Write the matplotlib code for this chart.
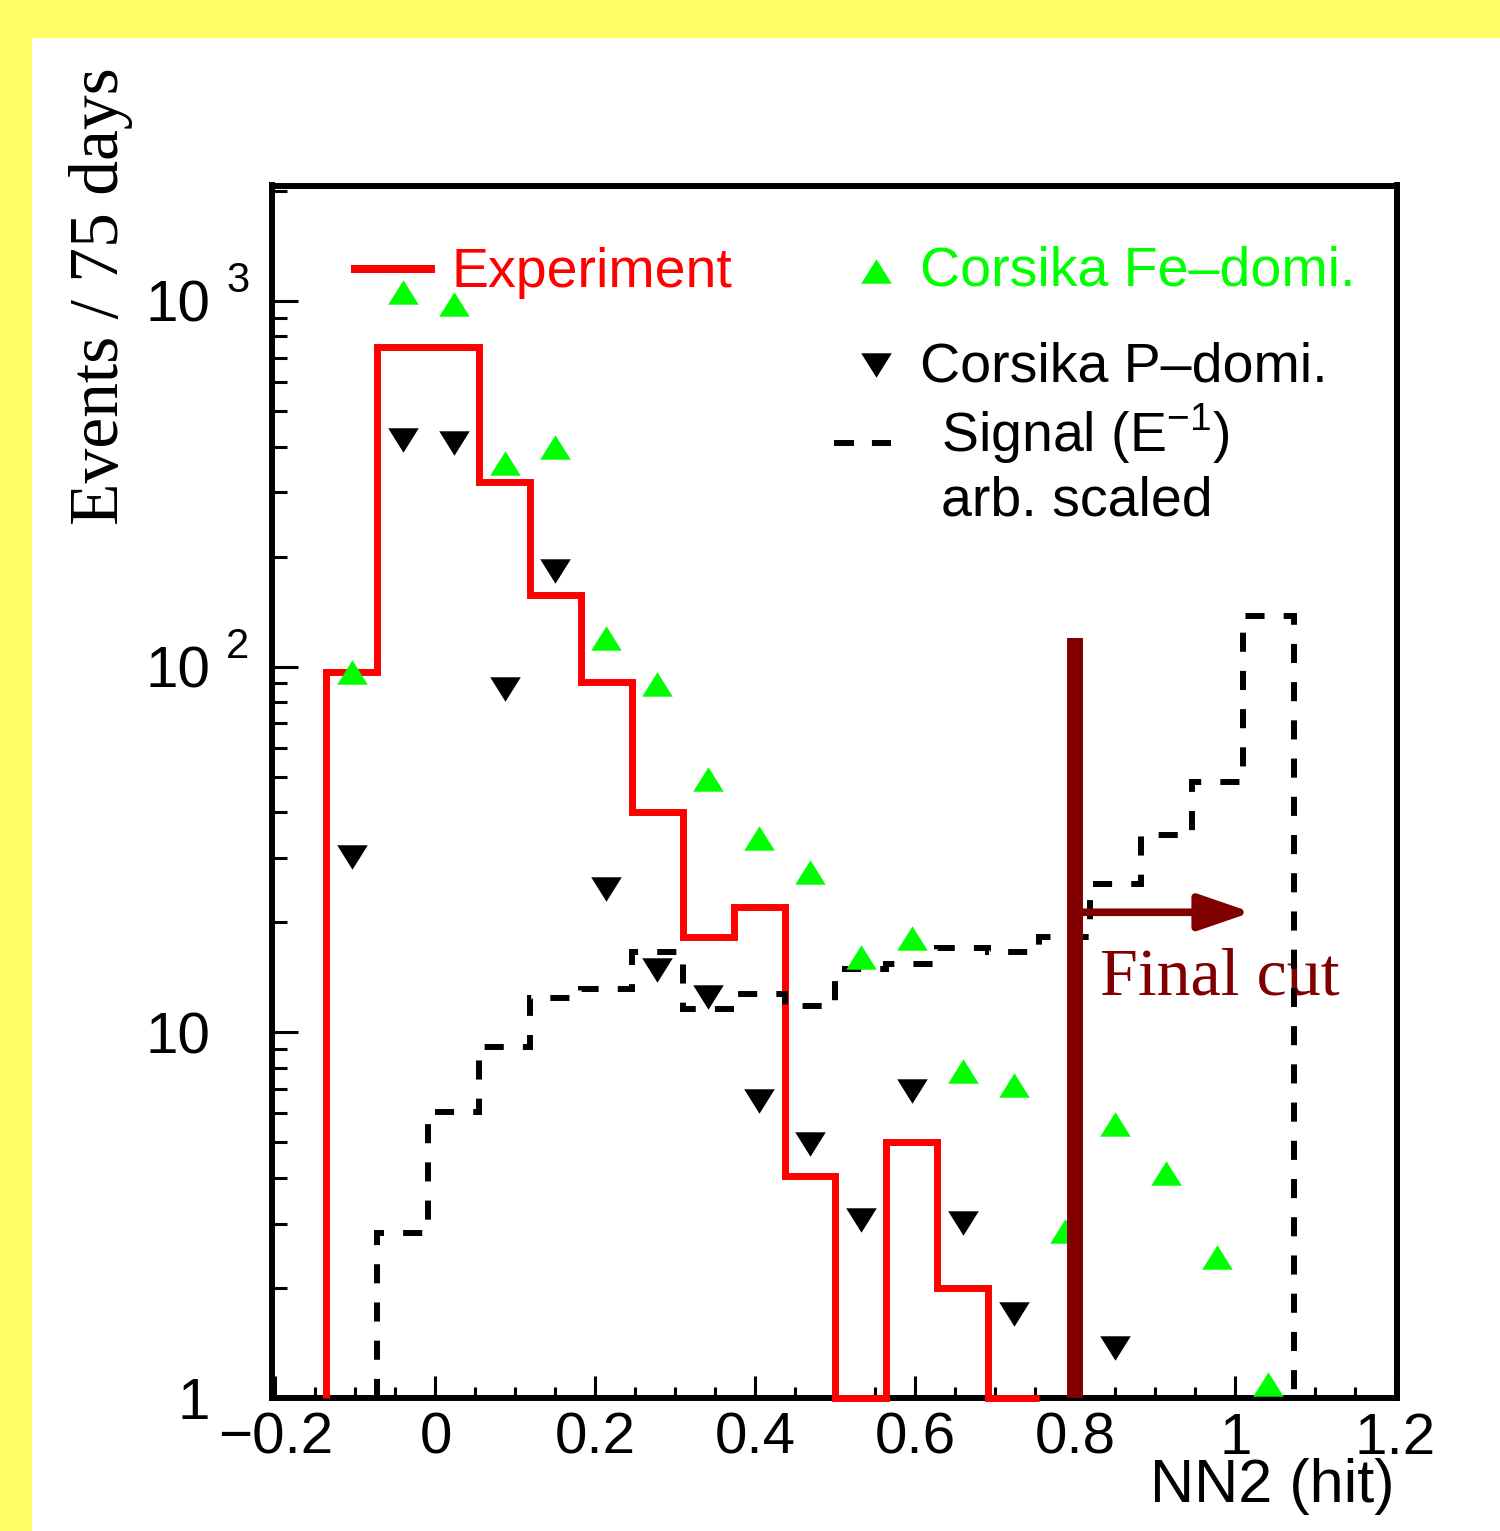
import numpy as np
import matplotlib
matplotlib.use('Agg')
import matplotlib.pyplot as plt
from matplotlib.patches import Rectangle
from matplotlib.ticker import FixedLocator, FixedFormatter, MultipleLocator, LogLocator, NullFormatter

plt.rcParams['font.family'] = ['Liberation Sans', 'DejaVu Sans']

# NN2 histogram binning: 22 bins from -0.2 to 1.2
nn_lo, nn_hi, n_bins = -0.2, 1.2, 22

# experiment, bins 1..14 (0 = empty bin, drawn on the floor)
exp_counts = [97, 750, 750, 320, 157, 91, 40, 18.2, 22, 4.05, 0, 5.0, 2.0, 0]
# corsika Fe dominated, bins 1..19
fe_counts = [97, 1058, 984, 361, 398, 120, 89.6, 49.3, 34.0, 27.5, 16.1, 18.1,
             7.84, 7.2, 2.86, 5.61, 4.12, 2.43, 1.09]
# corsika P dominated, bins 1..16 (bin 15 empty)
p_counts = [30.2, 418, 409, 86.9, 182.6, 24.7, 14.8, 12.5, 6.49, 4.96, 3.07, 6.93,
            3.01, 1.70, np.nan, 1.37]
# signal (E^-1), arb. scaled, bins 2..19
sig_counts = [2.83, 6.07, 9.14, 12.4, 13.1, 16.6, 11.6, 12.7, 11.8, 14.9, 15.4, 17.0,
              16.6, 18.2, 25.4, 34.6, 48.5, 138]

cut = 0.8
cut_top = 120
arrow_end, arrow_y = 1.02, 21.3

xtick_vals = [-0.2, 0, 0.2, 0.4, 0.6, 0.8, 1.0, 1.2]
xtick_text = ['\u22120.2', '0', '0.2', '0.4', '0.6', '0.8', '1', '1.2']
ytick_vals = [1, 10, 100, 1000]
ytick_base = ['1', '10', '10', '10']
ytick_sup = ['', '', '2', '3']

edges = np.linspace(nn_lo, nn_hi, n_bins + 1)
centers = 0.5 * (edges[:-1] + edges[1:])

W, H = 1500, 1531
def fx(px):
    return px / W
def fy(py):
    return 1 - py / H

red = '#ff0000'
green = '#00ff00'
maroon = '#800000'
tri_up = [(-1, -0.8), (1, -0.8), (0, 0.8), (-1, -0.8)]
tri_dn = [(-1, 0.8), (1, 0.8), (0, -0.8), (-1, 0.8)]
msize = 22

fig = plt.figure(figsize=(15, 15.31), dpi=100)
fig.patch.set_facecolor('#ffff66')
fig.add_artist(Rectangle((fx(32), 0), 1, fy(38), transform=fig.transFigure,
                         facecolor='white', edgecolor='none', zorder=-1))

ax = fig.add_axes([fx(271.5), fy(1398), (1397 - 271.5) / W, (1398 - 185.5) / H])
ax.set_facecolor('white')
ax.set_xlim(-0.205, 1.202)
ax.set_yscale('log')
ax.set_ylim(1, 2070)

for s in ax.spines.values():
    s.set_linewidth(4.3)
    s.set_zorder(2.5)

ax.xaxis.set_major_locator(FixedLocator(xtick_vals))
ax.xaxis.set_major_formatter(FixedFormatter(xtick_text))
ax.xaxis.set_minor_locator(MultipleLocator(0.05))
ax.yaxis.set_major_locator(FixedLocator(ytick_vals))
ax.yaxis.set_major_formatter(NullFormatter())
ax.yaxis.set_minor_locator(LogLocator(base=10, subs=np.arange(2, 10)))
ax.yaxis.set_minor_formatter(NullFormatter())
ax.tick_params(which='both', direction='in', top=False, right=False, width=2.2)
ax.tick_params(axis='x', which='major', length=15.6, labelsize=42, pad=10)
ax.tick_params(axis='x', which='minor', length=7.7)
ax.tick_params(axis='y', which='major', length=19)
ax.tick_params(axis='y', which='minor', length=11)

# y tick labels, ROOT style 10 with a raised exponent
for v, b, sp in zip(ytick_vals, ytick_base, ytick_sup):
    ax.annotate(b, xy=(fx(210), v), xycoords=('figure fraction', 'data'),
                xytext=(0, -15), textcoords='offset points', ha='right', va='baseline',
                fontsize=42, annotation_clip=False)
    if sp:
        ax.annotate(sp, xy=(fx(226), v), xycoords=('figure fraction', 'data'),
                    xytext=(0, 6.5), textcoords='offset points', ha='left', va='baseline',
                    fontsize=30, annotation_clip=False)

# histograms
ax.stairs(np.clip(exp_counts, 1, None), edges[1:16], baseline=1, color=red, lw=5,
          clip_on=False, zorder=3)
ax.stairs(sig_counts, edges[2:21], baseline=1, color='black', lw=4.3,
          ls=(0, (3.2, 3.2)), zorder=4)
ax.plot(centers[1:20], fe_counts, ls='none', marker=tri_up, ms=msize, mew=0, color=green, zorder=5)
ax.plot(centers[1:17], p_counts, ls='none', marker=tri_dn, ms=msize, mew=0, color='black', zorder=5)

# final cut
ax.plot([cut, cut], [1, cut_top], color=maroon, lw=11.5, solid_capstyle='butt', zorder=6)
ax.annotate('', xy=(arrow_end, arrow_y), xytext=(cut, arrow_y),
            arrowprops=dict(arrowstyle='-|>,head_length=32,head_width=11', mutation_scale=1,
                            lw=5.5, color=maroon, shrinkA=0, shrinkB=0), zorder=6)
ax.text(fx(1100), fy(994), 'Final cut', transform=fig.transFigure, family='Liberation Serif',
        fontsize=49, color=maroon, va='baseline', ha='left', zorder=3.5)

# legend
ax.plot([fx(351), fx(435)], [fy(269), fy(269)], transform=fig.transFigure, color=red, lw=5.8,
        solid_capstyle='butt', clip_on=False)
ax.text(fx(452), fy(287), 'Experiment', transform=fig.transFigure, color=red, fontsize=40,
        va='baseline')
ax.plot([fx(876)], [fy(271)], transform=fig.transFigure, marker=tri_up, ms=msize, mew=0,
        color=green, clip_on=False)
ax.text(fx(920), fy(285), 'Corsika Fe\u2013domi.', transform=fig.transFigure, color=green,
        fontsize=40, va='baseline')
ax.plot([fx(876)], [fy(365)], transform=fig.transFigure, marker=tri_dn, ms=msize, mew=0,
        color='black', clip_on=False)
ax.text(fx(920), fy(381.7), 'Corsika P\u2013domi.', transform=fig.transFigure, color='black',
        fontsize=40, va='baseline')
ax.plot([fx(834), fx(891)], [fy(443), fy(443)], transform=fig.transFigure, color='black',
        lw=4.3, ls=(0, (3.35, 3.0)), clip_on=False)
ax.text(fx(941), fy(451.7), r'Signal (E$^{\mathregular{-1}}$)', transform=fig.transFigure,
        fontsize=40, va='baseline')
ax.text(fx(941), fy(515), 'arb. scaled', transform=fig.transFigure, fontsize=40, va='baseline')

# axis titles
ax.text(fx(1395), fy(1502), 'NN2 (hit)', transform=fig.transFigure, ha='right', va='baseline',
        fontsize=44)
fig.text(fx(101), fy(67), 'Events / 75 days', rotation=90, ha='center', va='top',
         family='Liberation Serif', fontsize=50)

fig.savefig('out.png', dpi=100)
